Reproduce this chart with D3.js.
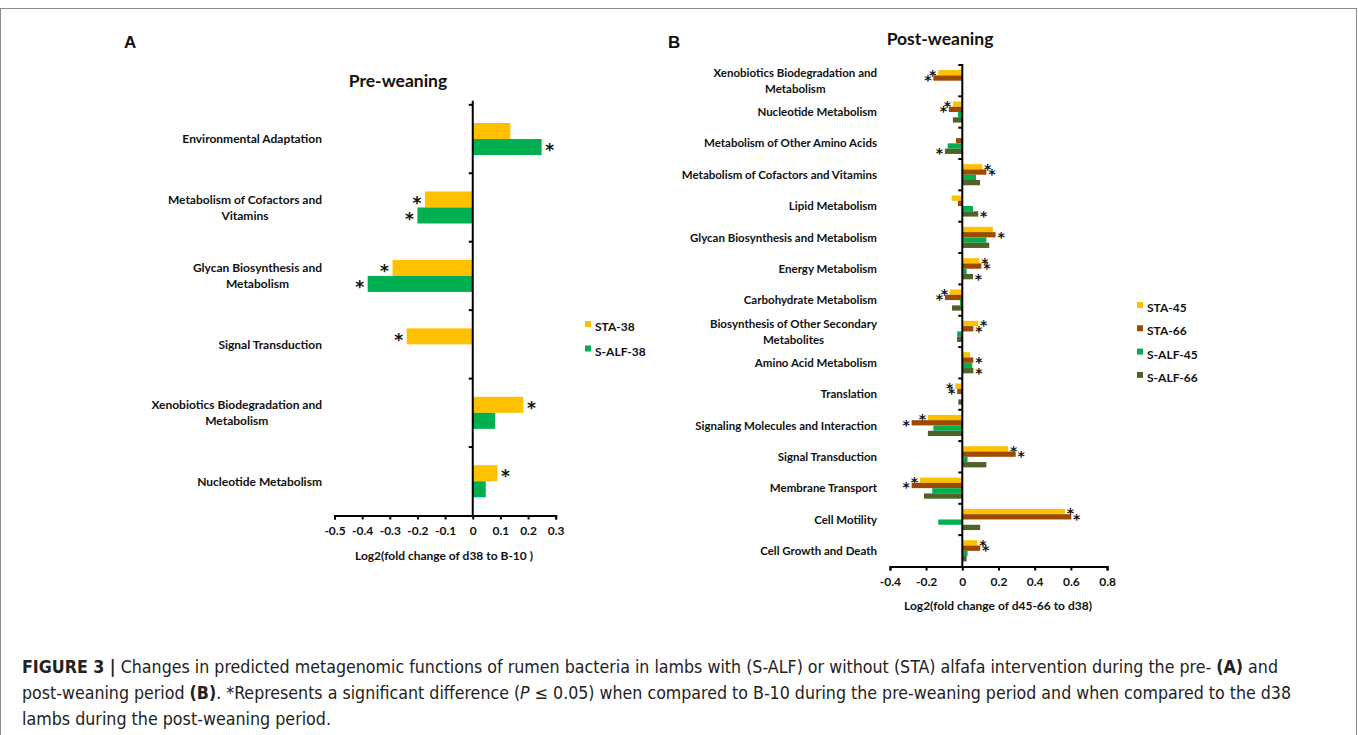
<!DOCTYPE html>
<html>
<head>
<meta charset="utf-8">
<script src="https://cdn.jsdelivr.net/npm/d3@7"></script>
<style>
  html, body { margin: 0; padding: 0; background: #fff; }
  svg { display: block; }
  .lbl { font-family: Lato, "Open Sans", sans-serif; font-weight: 700; fill: #111; }
  .star { font-family: "DejaVu Sans", sans-serif; font-weight: 700; fill: #111; }
  .cap { font-family: "DejaVu Sans Condensed", "Liberation Sans Narrow", "Liberation Sans", sans-serif; font-stretch: condensed; fill: #222; }
</style>
</head>
<body>
<svg id="fig" width="1358" height="735"></svg>
<script>
// ---------- Panel A: pre-weaning ----------
const preCategories = [
  "Environmental Adaptation",
  "Metabolism of Cofactors and Vitamins",
  "Glycan Biosynthesis and Metabolism",
  "Signal Transduction",
  "Xenobiotics Biodegradation and Metabolism",
  "Nucleotide Metabolism"
];
const preLabelLines = [
  ["Environmental Adaptation"],
  ["Metabolism of Cofactors and", "Vitamins"],
  ["Glycan Biosynthesis and", "Metabolism"],
  ["Signal Transduction"],
  ["Xenobiotics Biodegradation and", "Metabolism"],
  ["Nucleotide Metabolism"]
];
const sta38  = [0.136, -0.173, -0.290, -0.239, 0.183, 0.089];
const salf38 = [0.249, -0.200, -0.380,  0.000, 0.081, 0.047];
const sta38Sig  = [false, true, true, true, true, true];
const salf38Sig = [true, true, true, false, false, false];
const preSeriesNames = ["STA-38", "S-ALF-38"];
const preTicks = [-0.5, -0.4, -0.3, -0.2, -0.1, 0, 0.1, 0.2, 0.3];

// ---------- Panel B: post-weaning ----------
const postCategories = [
  "Xenobiotics Biodegradation and Metabolism",
  "Nucleotide Metabolism",
  "Metabolism of Other Amino Acids",
  "Metabolism of Cofactors and Vitamins",
  "Lipid Metabolism",
  "Glycan Biosynthesis and Metabolism",
  "Energy Metabolism",
  "Carbohydrate Metabolism",
  "Biosynthesis of Other Secondary Metabolites",
  "Amino Acid Metabolism",
  "Translation",
  "Signaling Molecules and Interaction",
  "Signal Transduction",
  "Membrane Transport",
  "Cell Motility",
  "Cell Growth and Death"
];
const postLabelLines = [
  ["Xenobiotics Biodegradation and", "Metabolism"],
  ["Nucleotide Metabolism"],
  ["Metabolism of Other Amino Acids"],
  ["Metabolism of Cofactors and Vitamins"],
  ["Lipid Metabolism"],
  ["Glycan Biosynthesis and Metabolism"],
  ["Energy Metabolism"],
  ["Carbohydrate Metabolism"],
  ["Biosynthesis of Other Secondary", "Metabolites"],
  ["Amino Acid Metabolism"],
  ["Translation"],
  ["Signaling Molecules and Interaction"],
  ["Signal Transduction"],
  ["Membrane Transport"],
  ["Cell Motility"],
  ["Cell Growth and Death"]
];
const sta45  = [-0.133, -0.052,  0.000, 0.110, -0.059, 0.169, 0.094, -0.068,  0.088, 0.042, -0.039, -0.190, 0.254, -0.234,  0.567, 0.083];
const sta66  = [-0.160, -0.074, -0.035, 0.133, -0.024, 0.184, 0.105, -0.096,  0.061, 0.061, -0.028, -0.280, 0.295, -0.280,  0.602, 0.099];
const salf45 = [ 0.000, -0.024, -0.081, 0.076,  0.059, 0.133, 0.024, -0.013, -0.028, 0.055,  0.000, -0.160, 0.029, -0.166, -0.133, 0.029];
const salf66 = [ 0.000, -0.052, -0.096, 0.098,  0.088, 0.149, 0.059, -0.057, -0.029, 0.061, -0.022, -0.190, 0.133, -0.212,  0.099, 0.024];
const sta45Sig  = [true, true, false, true, false, false, true, true, true, false, true, true, true, true, true, true];
const sta66Sig  = [true, true, false, true, false, true,  true, true, true, true,  true, true, true, true, true, true];
const salf45Sig = [false, false, false, false, false, false, false, false, false, false, false, false, false, false, false, false];
const salf66Sig = [false, false, true, false, true, false, true, false, false, true, false, false, false, false, false, false];
const postSeriesNames = ["STA-45", "STA-66", "S-ALF-45", "S-ALF-66"];
const postTicks = [-0.4, -0.2, 0, 0.2, 0.4, 0.6, 0.8];

const COLORS = {
  "STA-38": "#FFC000", "S-ALF-38": "#00B050",
  "STA-45": "#FFC000", "STA-66": "#9C4A00", "S-ALF-45": "#00B050", "S-ALF-66": "#4F6228"
};

const svg = d3.select("#fig");

// frame around the figure
svg.append("rect").attr("x", 0.5).attr("y", 8.5).attr("width", 1356).attr("height", 740)
  .attr("fill", "none").attr("stroke", "#8a8a8a").attr("stroke-width", 1);

// plain hyphen-minus tick labels
function fmt(v) {
  if (v === 0) return "0";
  return (v < 0 ? "-" : "") + Math.abs(v).toFixed(1);
}

function drawPanel(cfg) {
  const g = svg.append("g");
  const x = d3.scaleLinear().domain(cfg.xDomain).range(cfg.xRange);
  const y = d3.scaleBand().domain(cfg.categories).range(cfg.yRange);
  const bw = y.bandwidth();
  const sub = d3.scaleBand().domain(cfg.series.map(s => s.name))
    .range([bw * cfg.groupPad, bw * (1 - cfg.groupPad)]);
  const sh = sub.bandwidth();

  // bars
  cfg.series.forEach(s => {
    const rows = cfg.categories.map((c, i) => ({ c, v: s.values[i], sig: s.sig[i] }));
    g.append("g").selectAll("rect").data(rows.filter(d => d.v !== 0)).join("rect")
      .attr("x", d => x(Math.min(0, d.v)))
      .attr("y", d => y(d.c) + sub(s.name))
      .attr("width", d => Math.abs(x(d.v) - x(0)))
      .attr("height", sh)
      .attr("fill", COLORS[s.name]);
    // significance marks
    g.append("g").selectAll("text").data(rows.filter(d => d.sig)).join("text")
      .attr("class", "star")
      .attr("x", d => x(d.v) + (d.v >= 0 ? cfg.starGap : -cfg.starGap))
      .attr("y", d => y(d.c) + sub(s.name) + sh / 2 + cfg.starFont * 0.6 + cfg.starShift)
      .attr("text-anchor", "middle")
      .style("font-size", cfg.starFont + "px")
      .text("*");
  });

  // zero line (category axis)
  g.append("line").attr("x1", x(0)).attr("x2", x(0))
    .attr("y1", cfg.yRange[0] - cfg.axisTopExtra).attr("y2", cfg.yRange[1])
    .attr("stroke", "#000").attr("stroke-width", 2);
  const bounds = cfg.categories.map(c => y(c));
  g.append("g").selectAll("line").data(bounds).join("line")
    .attr("x1", x(0) - 4).attr("x2", x(0))
    .attr("y1", d => d).attr("y2", d => d)
    .attr("stroke", "#000").attr("stroke-width", 2);

  // value axis
  const ax = g.append("g").attr("transform", `translate(0,${cfg.yRange[1]})`)
    .call(d3.axisBottom(x).tickValues(cfg.ticks).tickFormat(fmt).tickSize(4).tickPadding(7));
  ax.select(".domain").attr("stroke", "#000").attr("stroke-width", 2);
  ax.selectAll(".tick line").attr("stroke", "#000").attr("stroke-width", 2);
  ax.selectAll(".tick text").attr("class", "lbl").attr("fill", "#111")
    .style("font-size", cfg.tickFont + "px");

  g.append("text").attr("class", "lbl")
    .attr("x", cfg.axisTitleX).attr("y", cfg.axisTitleY)
    .attr("text-anchor", "middle").style("font-size", cfg.tickFont + "px")
    .text(cfg.axisTitle);

  // category labels
  cfg.categories.forEach((c, i) => {
    const lines = cfg.labelLines[i];
    const cy = y(c) + bw / 2;
    if (lines.length === 1) {
      g.append("text").attr("class", "lbl")
        .attr("x", cfg.labelRight).attr("y", cy + cfg.labelFont * 0.36)
        .attr("text-anchor", "end").style("font-size", cfg.labelFont + "px")
        .text(lines[0]);
    } else {
      const t1 = g.append("text").attr("class", "lbl")
        .attr("x", cfg.labelRight).attr("y", cy - cfg.lineGap / 2 + cfg.labelFont * 0.36)
        .attr("text-anchor", "end").style("font-size", cfg.labelFont + "px")
        .text(lines[0]);
      const w = t1.node().getComputedTextLength();
      g.append("text").attr("class", "lbl")
        .attr("x", cfg.labelRight - w / 2).attr("y", cy + cfg.lineGap / 2 + cfg.labelFont * 0.36)
        .attr("text-anchor", "middle").style("font-size", cfg.labelFont + "px")
        .text(lines[1]);
    }
  });

  // title
  g.append("text").attr("class", "lbl")
    .attr("x", cfg.titleX).attr("y", cfg.titleY).attr("text-anchor", "middle")
    .style("font-size", cfg.titleFont + "px").text(cfg.title);
  // panel letter
  g.append("text").attr("x", cfg.letterX).attr("y", 48)
    .style("font-family", "'Liberation Sans', Arial, sans-serif").style("font-weight", 700)
    .style("font-size", "17px").attr("fill", "#111").text(cfg.letter);

  // legend
  cfg.series.forEach((s, i) => {
    const ly = cfg.legendY + i * cfg.legendStep;
    g.append("rect").attr("x", cfg.legendX).attr("y", ly - 10).attr("width", 6).attr("height", 6)
      .attr("fill", COLORS[s.name]);
    g.append("text").attr("class", "lbl").attr("x", cfg.legendX + 10).attr("y", ly)
      .style("font-size", "12px").text(s.name);
  });
}

drawPanel({
  categories: preCategories, labelLines: preLabelLines,
  series: [
    { name: preSeriesNames[0], values: sta38, sig: sta38Sig },
    { name: preSeriesNames[1], values: salf38, sig: salf38Sig }
  ],
  xDomain: [-0.5, 0.3], xRange: [334.5, 555.7],
  yRange: [104.8, 515.5], groupPad: 0.266,
  ticks: preTicks, tickFont: 12,
  axisTitle: "Log2(fold change of d38 to B-10 )", axisTitleX: 444, axisTitleY: 560,
  labelRight: 322, labelFont: 12, lineGap: 16.5,
  starGap: 8, starFont: 17, starShift: -1, axisTopExtra: 4,
  title: "Pre-weaning", titleX: 398, titleY: 87, titleFont: 17.5,
  letter: "A", letterX: 124,
  legendX: 585, legendY: 331, legendStep: 24.5
});

drawPanel({
  categories: postCategories, labelLines: postLabelLines,
  series: [
    { name: postSeriesNames[0], values: sta45, sig: sta45Sig },
    { name: postSeriesNames[1], values: sta66, sig: sta66Sig },
    { name: postSeriesNames[2], values: salf45, sig: salf45Sig },
    { name: postSeriesNames[3], values: salf66, sig: salf66Sig }
  ],
  xDomain: [-0.4, 0.8], xRange: [889.9, 1107.1],
  yRange: [65, 566.5], groupPad: 0.163,
  ticks: postTicks, tickFont: 12,
  axisTitle: "Log2(fold change of d45-66 to d38)", axisTitleX: 998, axisTitleY: 610,
  labelRight: 877, labelFont: 11.5, lineGap: 16,
  starGap: 5.5, starFont: 14, starShift: -1.5, axisTopExtra: 1,
  title: "Post-weaning", titleX: 940, titleY: 45, titleFont: 17.5,
  letter: "B", letterX: 668,
  legendX: 1137, legendY: 312, legendStep: 23.3
});

// ---------- caption ----------
const captionLines = [
  [["FIGURE 3 |", "b"], [" Changes in predicted metagenomic functions of rumen bacteria in lambs with (S-ALF) or without (STA) alfafa intervention during the pre- ", ""], ["(A)", "b"], [" and", ""]],
  [["post-weaning period ", ""], ["(B)", "b"], [". *Represents a significant difference (", ""], ["P", "i"], [" \u2264 0.05) when compared to B-10 during the pre-weaning period and when compared to the d38", ""]],
  [["lambs during the post-weaning period.", ""]]
];
const captionRight = [1278, 1291, 331];
captionLines.forEach((parts, i) => {
  const t = svg.append("text").attr("class", "cap").attr("x", 22).attr("y", 673 + i * 26)
    .style("font-size", "17px");
  parts.forEach(([txt, st]) => {
    const ts = t.append("tspan").text(txt);
    if (st === "b") ts.style("font-weight", 700);
    if (st === "i") ts.style("font-style", "italic");
  });
  t.attr("textLength", captionRight[i] - 22).attr("lengthAdjust", "spacingAndGlyphs");
});
</script>
</body>
</html>
